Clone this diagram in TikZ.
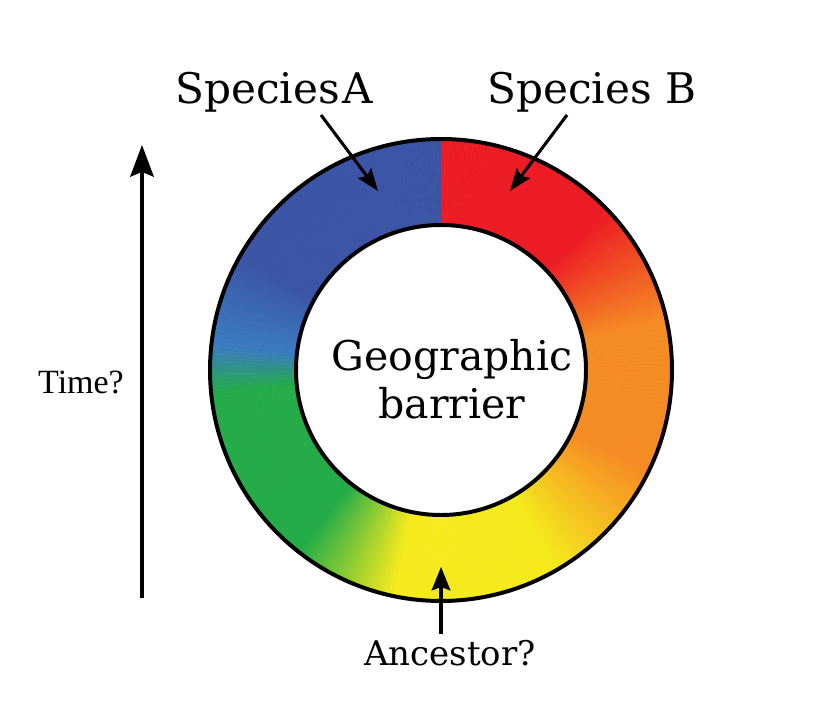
\documentclass[tikz,border=0pt]{standalone}
\usepackage{fontspec}
\setmainfont{DejaVu Serif}
\newfontfamily\timesfont{Liberation Serif}
\usetikzlibrary{arrows.meta}

\definecolor{ringblue}{RGB}{59,84,165}
\definecolor{ringlblue}{RGB}{58,124,192}
\definecolor{ringgreen}{RGB}{35,172,72}
\definecolor{ringyellow}{RGB}{244,234,28}
\definecolor{ringorange}{RGB}{245,140,35}
\definecolor{ringred}{RGB}{237,28,36}

\begin{document}
\begin{tikzpicture}[x=0.03cm, y=0.03cm,
    ringline/.style={line width=3.4pt, black},
    pointer/.style={line width=2.6pt, black, -{Stealth[length=19pt,width=14pt,inset=3pt]}},
    label/.style={inner sep=0pt, anchor=base}]
      \useasboundingbox (0,0) rectangle (815,718);

      % ring, coloured one degree at a time
      \begin{scope}[shift={(441,348)}]
        \foreach \a/\b/\ca/\cb in {90/150/ringblue/ringblue, 150/174/ringblue/ringlblue,
            174/186/ringlblue/ringgreen, 186/232/ringgreen/ringgreen,
            232/258/ringgreen/ringyellow, 258/300/ringyellow/ringyellow,
            300/334/ringyellow/ringorange, 334/372/ringorange/ringorange,
            372/404/ringorange/ringred, 404/450/ringred/ringred} {
          \pgfmathtruncatemacro{\e}{\b-1}
          \foreach \t in {\a,...,\e} {
            \pgfmathsetmacro{\p}{100*(\t+0.5-\a)/(\b-\a)}
            \colorlet{seg}{\cb!\p!\ca}
            \filldraw[seg, line width=0.4pt] (\t:231) arc[start angle=\t, end angle=\t+1, radius=231]
              -- (\t+1:145) arc[start angle=\t+1, end angle=\t, radius=145] -- cycle;
          }
        }
        \draw[ringline] (0,0) circle[radius=231];
        \draw[ringline] (0,0) circle[radius=145];
      \end{scope}

      \node[label, font=\fontsize{35}{35}\selectfont] (geo) at (452,348) {Geographic};
      \node[label, font=\fontsize{35}{35}\selectfont] (barrier) at (452,300) {barrier};

      % labels and pointers
      \node[label, font=\fontsize{36}{36}\selectfont] (spA) at (274,614) {Species\hspace{2pt}A};
      \node[label, font=\fontsize{36}{36}\selectfont] (spB) at (592,614) {Species B};
      \coordinate (aFrom) at (321,603);
      \coordinate (aTip) at (378,527);
      \coordinate (bFrom) at (567,603);
      \coordinate (bTip) at (510,527);
      \draw[pointer] (aFrom) -- (aTip);
      \draw[pointer] (bFrom) -- (bTip);

      \node[label, font=\timesfont\fontsize{29}{29}\selectfont] (time) at (81,325) {Time?};
      \coordinate (timeFrom) at (142,120);
      \coordinate (timeTip) at (142,573);
      \draw[line width=3pt, -{Stealth[length=27pt,width=20pt,inset=4pt]}] (timeFrom) -- (timeTip);

      \node[label, font=\fontsize{29}{29}\selectfont] (anc) at (450,53) {Ancestor?};
      \coordinate (ancTip) at (441,151);
      \draw[pointer, -{Stealth[length=20pt,width=16pt,inset=3pt]}] (anc.north -| ancTip) ++(0,6) -- (ancTip);
\end{tikzpicture}
\end{document}
